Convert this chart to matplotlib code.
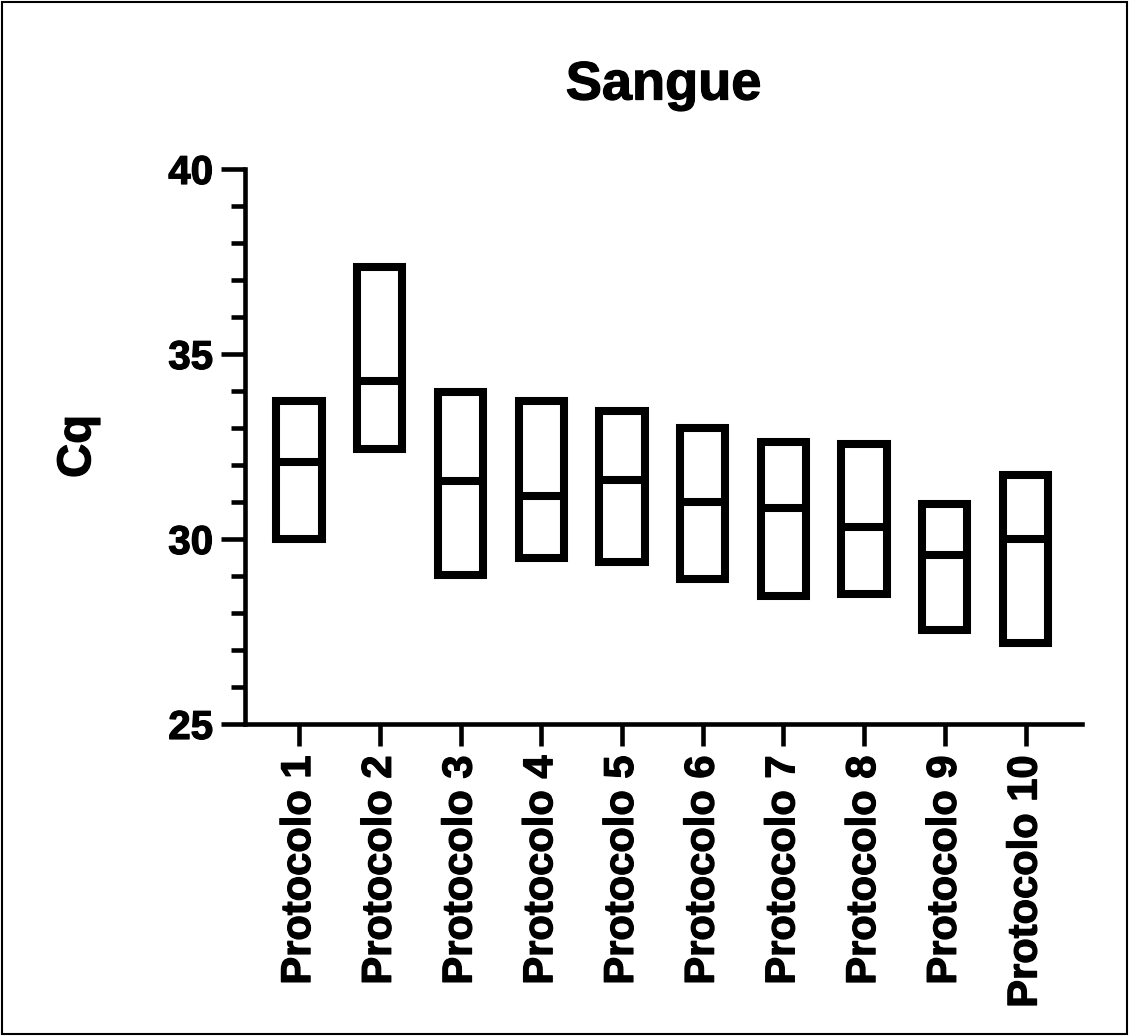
import numpy as np
import matplotlib.pyplot as plt
import matplotlib.patheffects as pe
from matplotlib.patches import Rectangle

plt.rcParams['font.family'] = ['Liberation Sans', 'DejaVu Sans']
plt.rcParams['font.weight'] = 'bold'

# Cq por protocolo: minimo, mediana e maximo
protocolos = ['Protocolo 1', 'Protocolo 2', 'Protocolo 3', 'Protocolo 4', 'Protocolo 5',
              'Protocolo 6', 'Protocolo 7', 'Protocolo 8', 'Protocolo 9', 'Protocolo 10']
cq_min = [30.0, 32.43, 29.02, 29.48, 29.39, 28.92, 28.45, 28.52, 27.54, 27.20]
cq_med = [32.07, 34.26, 31.58, 31.17, 31.60, 31.0, 30.85, 30.32, 29.57, 30.0]
cq_max = [33.73, 37.34, 33.98, 33.73, 33.45, 33.01, 32.63, 32.58, 30.95, 31.73]

x = np.arange(len(protocolos))
lo = np.array(cq_min)
hi = np.array(cq_max)
largura = 0.56
lw_box = 5.8

# contorno fino para engrossar o texto
grosso = [pe.withStroke(linewidth=0.9, foreground='black')]

fig = plt.figure(figsize=(11.29, 10.36), dpi=100)
ax = fig.add_axes([0.217, 0.3012, 0.7414, 0.5357])

# caixas flutuantes (min-max) com linha na mediana
ax.bar(x, hi - lo, bottom=lo, width=largura, fill=False,
       edgecolor='black', linewidth=lw_box)
ax.hlines(cq_med, x - largura / 2, x + largura / 2, colors='black', linewidth=lw_box)

ax.set_xlim(-0.67, 9.70)
ax.set_ylim(25, 40)
ax.set_yticks([25, 30, 35, 40])
ax.set_yticks(np.arange(25, 41, 1), minor=True)
ax.set_xticks(x)
ax.set_xticklabels(protocolos, rotation=90, fontsize=30, fontweight='bold')
for t in ax.get_xticklabels():
    t.set_path_effects(grosso)
for t in ax.get_yticklabels():
    t.set_fontsize(29)
    t.set_fontweight('bold')
    t.set_path_effects(grosso)

for s in ['top', 'right']:
    ax.spines[s].set_visible(False)
for s in ['left', 'bottom']:
    ax.spines[s].set_linewidth(3.3)

ax.tick_params(axis='y', which='major', length=17, width=3.3, pad=6)
ax.tick_params(axis='y', which='minor', length=10, width=3.3)
ax.tick_params(axis='x', which='major', length=16, width=3.3, pad=7)

yl = ax.set_ylabel('Cq', fontsize=34, fontweight='bold')
yl.set_path_effects(grosso)
ax.yaxis.set_label_coords(-0.173, 0.5)
tt = ax.set_title('Sangue', fontsize=39, fontweight='bold', pad=50)
tt.set_path_effects(grosso)

# moldura em volta da figura
fig.patches.append(Rectangle((0.002, 0.002), 0.996, 0.996, transform=fig.transFigure,
                             fill=False, edgecolor='black', linewidth=1.5))

fig.savefig('out.png', dpi=100)
